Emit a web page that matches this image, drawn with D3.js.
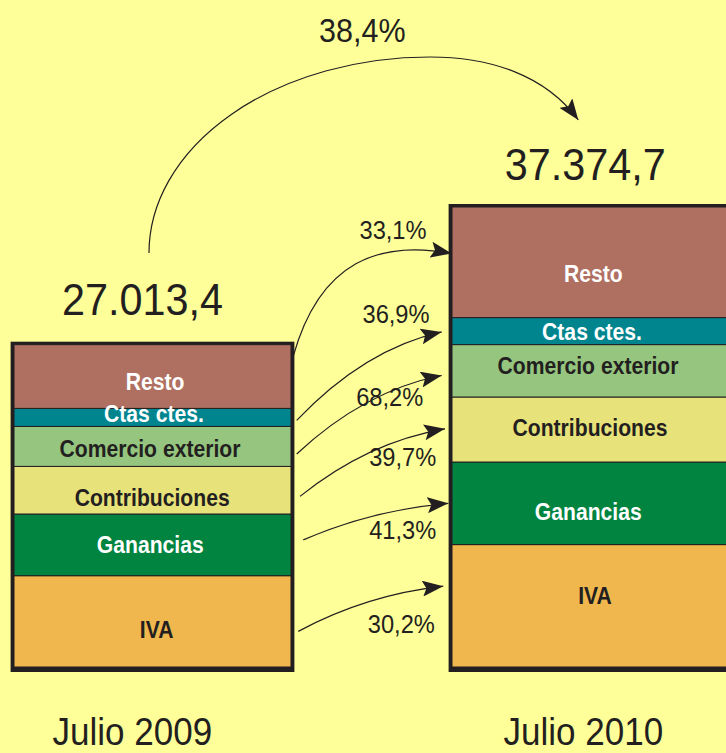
<!DOCTYPE html>
<html><head><meta charset="utf-8">
<script src="https://cdn.jsdelivr.net/npm/d3@7"></script>
<style>html,body{margin:0;padding:0;background:#FFFF99;overflow:hidden}</style>
</head><body><svg id="c" width="726" height="753"></svg>
<script>
// ---- data ----
const categories = ["IVA", "Ganancias", "Contribuciones", "Comercio exterior", "Ctas ctes.", "Resto"];
const periods = ["Julio 2009", "Julio 2010"];
const values2009 = [7418, 5013, 3868, 3250, 1463, 5176];
const values2010 = [9945, 6711, 5281, 4258, 2194, 8986];
const totals = [27013.4, 37374.7];
const totalLabels = ["27.013,4", "37.374,7"];
const growthLabels = ["30,2%", "41,3%", "39,7%", "68,2%", "36,9%", "33,1%"];
const totalGrowthLabel = "38,4%";

// ---- styles / layout ----
const colors = ["#F0B74E", "#00843F", "#E8E27A", "#95C57E", "#00858F", "#B07061"];
const labelColors = ["#231F20", "#FFFFFF", "#231F20", "#231F20", "#FFFFFF", "#FFFFFF"];
const ink = "#231F20";
const FONT = "'Liberation Sans', Arial, Helvetica, sans-serif";
const segLabelOffset = [
  { dx: [4.2, -2.2, -0.3, -2.5, 1.5, 2.5], dy: [16.6, 8, 16, 10.6, 5, 13] },
  { dx: [4.5, -2.2, -0.5, -2.5, 1.5, 2.8], dy: [-2.2, 17, 6.5, 2.8, 9.2, 19.7] }
];
const arrowLayout = [
  { s: 0.61, e: 0.34, sx: 7.3, ex: -8.7, c: [0.33, 0.57, 0.33, 0.12], lx: -42, ly: 46.3 },
  { s: 0.42, e: 0.50, sx: 12.3, ex: -3.7, c: [0.33, 0.57, 0.33, 0.12], lx: -45.6, ly: 35.7 },
  { s: 0.63, e: 0.49, sx: 9, ex: -7, c: [0.33, 0.57, 0.33, 0.12], lx: -42.3, ly: 37.4 },
  { s: 0.69, e: 0.59, sx: 5.7, ex: -10.3, c: [0.33, 0.57, 0.33, 0.12], lx: -52, ly: 30 },
  { s: 0.67, e: 0.53, sx: 5.7, ex: -10.3, c: [0.33, 0.57, 0.33, 0.12], lx: -45.7, ly: -9.4 },
  { s: 0.18, e: 0.42, sx: 2.3, ex: -0.3, c: [0.17, 0.935, 0.45, -0.129], lx: -58.7, ly: -14 }
];

const svg = d3.select("#c");
svg.append("rect").attr("width", 726).attr("height", 753).attr("fill", "#FFFF99");

const defs = svg.append("defs");
defs.append("marker").attr("id", "ah").attr("viewBox", "0 0 21 16")
  .attr("refX", 21).attr("refY", 8).attr("markerWidth", 21).attr("markerHeight", 16)
  .attr("markerUnits", "userSpaceOnUse").attr("orient", "auto")
  .append("path").attr("d", "M0,0 L21,8 L0,16 L4,8 Z").attr("fill", ink);

function txt(x, y, str, size, weight, sx, fill) {
  const g = svg.append("g").attr("transform", `translate(${x},${y})`);
  g.append("text").attr("transform", `scale(${sx},1)`).attr("text-anchor", "middle")
    .attr("font-family", FONT).attr("font-size", size).attr("font-weight", weight)
    .attr("fill", fill).text(str);
}

const series = [values2009, values2010];
const rows = periods.map((p, i) => {
  const r = { period: p };
  categories.forEach((c, j) => r[c] = series[i][j]);
  return r;
});
const stacked = d3.stack().keys(categories)(rows);

const x = d3.scaleBand().domain(periods).range([14, 729]).paddingInner(0.3676).paddingOuter(0);
const bw = x.bandwidth();
const y = d3.scaleLinear().domain([0, d3.max(series, s => d3.sum(s))]).range([667, 207]);

// bar frames
periods.forEach((p, i) => {
  const top = y(d3.sum(series[i]));
  svg.append("rect").attr("x", x(p) - 3.4).attr("y", top - 3)
    .attr("width", bw + 6.8).attr("height", y(0) - top + 8).attr("fill", ink);
});

// segments
stacked.forEach((layer, j) => {
  svg.selectAll(null).data(layer).join("rect")
    .attr("x", d => x(d.data.period)).attr("y", d => y(d[1]))
    .attr("width", bw).attr("height", d => y(d[0]) - y(d[1]))
    .attr("fill", colors[j]).attr("stroke", ink).attr("stroke-width", 1);
});

// segment labels
stacked.forEach((layer, j) => {
  layer.forEach((d, i) => {
    const cy = (y(d[0]) + y(d[1])) / 2;
    const cx = x(d.data.period) + bw / 2;
    txt(cx + segLabelOffset[i].dx[j], cy + segLabelOffset[i].dy[j], categories[j], 23, "bold", 0.92, labelColors[j]);
  });
});

// growth arrows
const xL = x(periods[0]) + bw, xR = x(periods[1]);
stacked.forEach((layer, j) => {
  const L = arrowLayout[j];
  const a = layer[0], b = layer[1];
  const p0 = [xL + L.sx, y(a[1]) + L.s * (y(a[0]) - y(a[1]))];
  const p3 = [xR + L.ex, y(b[1]) + L.e * (y(b[0]) - y(b[1]))];
  const dx = p3[0] - p0[0], dy = p3[1] - p0[1];
  const p1 = [p0[0] + L.c[0] * dx, p0[1] + L.c[1] * dy];
  const p2 = [p3[0] - L.c[2] * dx, p3[1] - L.c[3] * dy];
  const path = d3.path();
  path.moveTo(...p0);
  path.bezierCurveTo(...p1, ...p2, ...p3);
  svg.append("path").attr("d", path.toString()).attr("fill", "none")
    .attr("stroke", ink).attr("stroke-width", 1.2).attr("marker-end", "url(#ah)");
  txt(p3[0] + L.lx, p3[1] + L.ly, growthLabels[j], 26, "normal", 0.91, ink);
});

// totals
const totalPos = [{ dx: -10, dy: -30 }, { dx: -5.2, dy: -27 }];
const totalAnchor = periods.map((p, i) => {
  const cx = x(p) + bw / 2 + totalPos[i].dx;
  const by = y(d3.sum(series[i])) + totalPos[i].dy;
  txt(cx, by, totalLabels[i], 44, "normal", 0.94, ink);
  return [cx, by];
});

// big arrow between totals
{
  const p0 = [totalAnchor[0][0] + 6.5, totalAnchor[0][1] - 61.7];
  const peak = [p0[0] + 281, p0[1] - 196];
  const p3 = [totalAnchor[1][0] - 7, totalAnchor[1][1] - 60];
  const d = `M${p0[0]},${p0[1]} A${peak[0] - p0[0]},${p0[1] - peak[1]} 0 0,1 ${peak[0]},${peak[1]} ` +
    `C${peak[0] + 60},${peak[1]} ${p3[0] - 33},${p3[1] - 45} ${p3[0]},${p3[1]}`;
  svg.append("path").attr("d", d).attr("fill", "none").attr("stroke", ink)
    .attr("stroke-width", 1.2).attr("marker-end", "url(#ah)");
  txt(peak[0] - 67.7, peak[1] - 14.7, totalGrowthLabel, 33.5, "normal", 0.91, ink);
}

// period labels
const periodDx = [-20.2, -7.2];
periods.forEach((p, i) => {
  txt(x(p) + bw / 2 + periodDx[i], 744.5, p, 38.5, "normal", 0.91, ink);
});
</script></body></html>
